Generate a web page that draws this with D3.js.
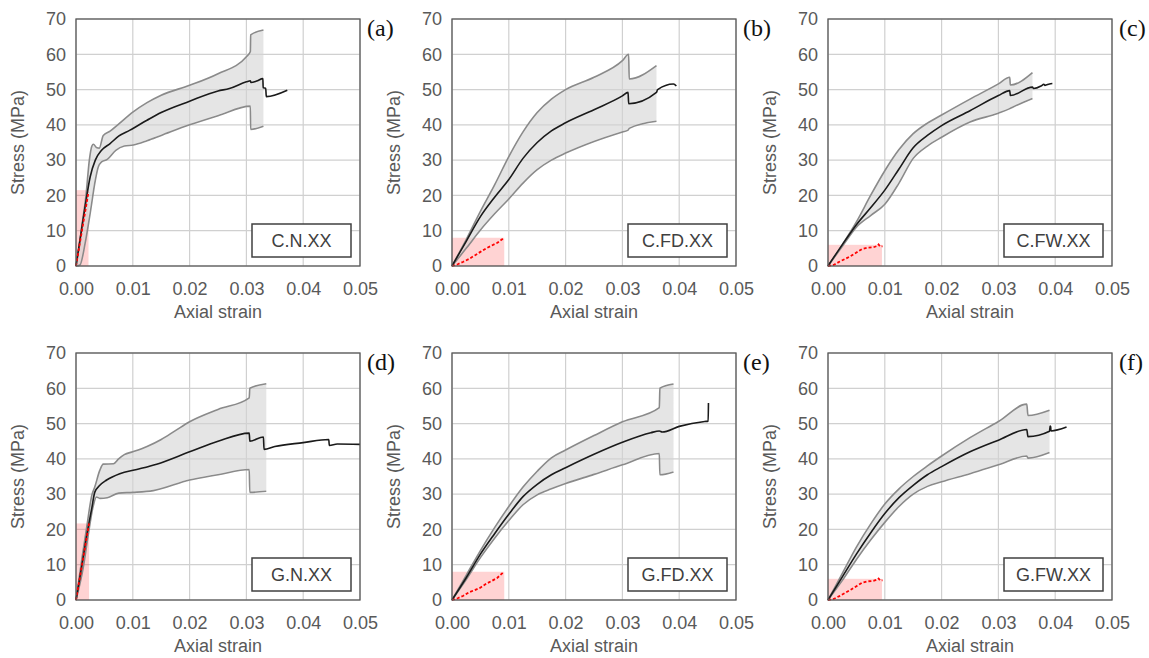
<!DOCTYPE html>
<html>
<head>
<meta charset="utf-8">
<script src="https://cdnjs.cloudflare.com/ajax/libs/d3/7.8.5/d3.min.js"></script>
<style>
	body { margin: 0; background: #fff; }
	svg text { font-family: "Liberation Sans", Arial, sans-serif; }
</style>
</head>
<body>
<div id="chart"></div>
<script>
// axis ticks
var strainTicks = [0, 0.01, 0.02, 0.03, 0.04, 0.05];
var stressTicks = [0, 10, 20, 30, 40, 50, 60, 70];

// panel names and labels
var panelNames = ["C.N.XX", "C.FD.XX", "C.FW.XX", "G.N.XX", "G.FD.XX", "G.FW.XX"];
var panelLetters = ["(a)", "(b)", "(c)", "(d)", "(e)", "(f)"];

// elastic zone boxes [max strain, max stress]
var elasticBox = [[0.0022, 21.5], [0.0092, 8], [0.0095, 6], [0.0023, 21.7], [0.0092, 8], [0.0095, 6]];

// upper bound curves [strain, stress]
var upperA = [[0,0],[0.0005,5],[0.001,11],[0.00176,20],[0.00235,30],[0.0028,34],[0.00306,34.5],[0.0036,33.6],[0.0041,33.4],[0.0048,37],[0.006,38.2],[0.0075,40.2],[0.01,43.6],[0.0125,46.3],[0.015,48.4],[0.02,51.2],[0.025,54.5],[0.03,59.3],[0.0307,60.8],[0.03075,65.5],[0.033,66.9]];
var upperB = [[0,0],[0.0025,7.5],[0.005,15.5],[0.0075,23],[0.01,31],[0.0125,38],[0.015,43.5],[0.0175,47.3],[0.02,50],[0.025,53.5],[0.03,58.2],[0.0311,60],[0.0312,53],[0.036,56.8]];
var upperC = [[0,0],[0.0025,6],[0.005,12.5],[0.0075,20],[0.01,27],[0.0125,33],[0.015,37.5],[0.0175,40.5],[0.02,42.8],[0.025,47.3],[0.03,51.6],[0.032,53.5],[0.0321,51.3],[0.036,54.8]];
var upperD = [[0,0],[0.001,11.3],[0.0019,20.8],[0.0028,29.8],[0.0033,32],[0.0042,36.8],[0.0048,38.5],[0.0066,38.6],[0.0075,40],[0.0085,41.2],[0.01,42],[0.0125,43.5],[0.015,45.5],[0.0175,48],[0.02,50.5],[0.025,54],[0.0305,57.3],[0.0306,60],[0.0335,61.3]];
var upperE = [[0,0],[0.0025,7],[0.005,14],[0.0075,20.5],[0.01,26.5],[0.0125,32],[0.015,36.5],[0.0175,40.3],[0.02,42.5],[0.025,46.6],[0.03,50.5],[0.0365,54.5],[0.0366,60],[0.039,61.2]];
var upperF = [[0,0],[0.0025,7.5],[0.005,15],[0.0075,21.5],[0.01,27.2],[0.0125,31.5],[0.015,35],[0.0175,38],[0.02,40.8],[0.025,46],[0.03,50.6],[0.035,55.5],[0.0352,52.3],[0.039,53.8]];

// lower bound curves
var lowerA = [[0,0],[0.0007,0.3],[0.0016,6.4],[0.0025,15],[0.0034,24.3],[0.0039,28],[0.0045,29.5],[0.0055,30.2],[0.007,32.8],[0.0085,34],[0.0101,34.3],[0.0125,35.5],[0.015,37],[0.02,40],[0.025,42.6],[0.0307,45.3],[0.03075,38.7],[0.033,39.6]];
var lowerB = [[0,0],[0.0025,5],[0.005,10.2],[0.0075,14.8],[0.01,19],[0.0125,23.5],[0.015,27.3],[0.0175,30],[0.02,32],[0.025,35.3],[0.03,38],[0.031,38.5],[0.0312,39],[0.036,41]];
var lowerC = [[0,0],[0.0025,5.5],[0.005,11],[0.0075,14.3],[0.01,17.5],[0.0125,23.5],[0.015,30.5],[0.0175,34],[0.02,36.5],[0.025,40.8],[0.03,43.3],[0.032,44.6],[0.0325,45],[0.036,47.5]];
var lowerD = [[0,0],[0.0013,9.4],[0.0022,18.9],[0.003,26.4],[0.0036,29.2],[0.0042,28.8],[0.0055,29],[0.0075,30.3],[0.01,30.5],[0.0136,31],[0.02,34],[0.025,35.5],[0.0305,37],[0.0306,30.5],[0.0335,30.8]];
var lowerE = [[0,0],[0.0025,5.8],[0.005,12],[0.0075,17.5],[0.01,22.5],[0.0125,27],[0.015,29.8],[0.0175,31.5],[0.02,33],[0.025,35.6],[0.03,38.3],[0.0365,41.5],[0.0366,35.5],[0.039,36.3]];
var lowerF = [[0,0],[0.0025,5.5],[0.005,11.5],[0.0075,17],[0.01,22],[0.0125,26.5],[0.015,30],[0.0175,32.2],[0.02,33.5],[0.025,35.8],[0.03,38.3],[0.035,40.8],[0.0352,40.2],[0.039,41.8]];

// mean curves
var meanA = [[0,0],[0.0007,7.4],[0.0016,16.8],[0.0025,25.3],[0.0034,30],[0.0045,32.8],[0.006,34.7],[0.0075,36.8],[0.0095,38.5],[0.0125,41.3],[0.015,43.5],[0.02,46.7],[0.025,49.6],[0.027,50.3],[0.03,52.2],[0.0307,52.5],[0.0308,52.0],[0.0318,52.4],[0.0329,53.1],[0.03295,50.5],[0.0334,50.4],[0.0335,48.0],[0.0372,49.8]];
var meanB = [[0,0],[0.0025,7],[0.005,14],[0.0075,19.5],[0.01,24.5],[0.0125,30.5],[0.015,35],[0.0175,38.3],[0.02,40.6],[0.025,44.3],[0.03,48.2],[0.031,49.2],[0.0311,46],[0.036,49.2],[0.0362,50],[0.039,51.6],[0.0395,51]];
var meanC = [[0,0],[0.0025,6],[0.005,11.7],[0.0075,16.5],[0.01,21.5],[0.0125,27.5],[0.015,33.5],[0.0175,37],[0.02,39.8],[0.025,44],[0.03,48.3],[0.032,49.7],[0.0321,48.3],[0.036,50.7],[0.0362,50.3],[0.0375,51],[0.038,51.5],[0.0382,51.2],[0.039,51.6],[0.0395,51.7]];
var meanD = [[0,0],[0.001,9.4],[0.0019,18.4],[0.0028,26.2],[0.0033,30.5],[0.0042,32.5],[0.0054,34],[0.0077,35.8],[0.0107,37],[0.0142,38.5],[0.02,42],[0.025,45],[0.0305,47.3],[0.0306,45],[0.033,46.2],[0.0331,42.7],[0.035,43.5],[0.04,44.6],[0.0445,45.5],[0.0446,43.8],[0.046,44.2],[0.05,44.1]];
var meanE = [[0,0],[0.0025,6.3],[0.005,13],[0.0075,18.8],[0.01,24.3],[0.0125,29.3],[0.015,32.8],[0.0175,35.5],[0.02,37.5],[0.025,41.3],[0.03,44.7],[0.035,47.4],[0.0365,47.9],[0.037,47.6],[0.04,49.2],[0.0445,50.6],[0.0451,50.7],[0.04515,55.8]];
var meanF = [[0,0],[0.0025,6.5],[0.005,13],[0.0075,19],[0.01,24.5],[0.0125,29],[0.015,32.5],[0.0175,35.5],[0.02,37.8],[0.025,42],[0.03,45.3],[0.035,48.3],[0.0352,46.3],[0.039,47.8],[0.0391,49.3],[0.0392,49.1],[0.03925,47.9],[0.042,49]];

// elastic (red dashed) curves
var redA = [[0,0],[0.0011,10.5],[0.0022,21]];
var redB = [[0,0],[0.001,0.5],[0.002,1.2],[0.003,2],[0.004,3],[0.005,4],[0.006,5],[0.007,5.8],[0.008,6.6],[0.009,7.8]];
var redC = [[0,0],[0.001,0.3],[0.002,1.2],[0.003,2],[0.004,2.8],[0.005,3.8],[0.006,4.8],[0.007,5.2],[0.008,5.3],[0.0087,5.7],[0.0089,6.1],[0.0092,5.5],[0.0096,5.6]];
var redD = [[0,0],[0.00115,10.8],[0.0023,21.7]];
var redE = [[0,0],[0.001,0.5],[0.002,1.2],[0.003,2.2],[0.004,2.8],[0.005,3.5],[0.006,4.6],[0.007,5.4],[0.008,6.3],[0.009,7.8]];
var redF = [[0,0],[0.001,0.3],[0.002,1.1],[0.003,2],[0.004,2.9],[0.005,3.9],[0.006,4.9],[0.007,5.3],[0.008,5.4],[0.0087,5.8],[0.0089,6.1],[0.0092,5.5],[0.0096,5.6]];

var uppers = [upperA, upperB, upperC, upperD, upperE, upperF];
var lowers = [lowerA, lowerB, lowerC, lowerD, lowerE, lowerF];
var means = [meanA, meanB, meanC, meanD, meanE, meanF];
var reds = [redA, redB, redC, redD, redE, redF];

var fullWidth = 1149;
var fullHeight = 658;
var plotW = 284;
var plotH = 247;
var lefts = [76, 452, 828];
var tops = [19, 353];
var axisGray = "#595959";
var fontSize = "18px";

var svg = d3.select("#chart").append("svg")
	.attr("width", fullWidth)
	.attr("height", fullHeight);
var defs = svg.append("defs");

//draw one panel
function drawPanel(i) {
	var g = svg.append("g")
		.attr("transform", "translate(" + lefts[i % 3] + "," + tops[Math.floor(i / 3)] + ")");

	var x = d3.scaleLinear().domain([0, 0.05]).range([0, plotW]);
	var y = d3.scaleLinear().domain([0, 70]).range([plotH, 0]);

	//grid
	g.selectAll(".vgrid").data(strainTicks).enter().append("line")
		.attr("x1", function(d) { return x(d); })
		.attr("x2", function(d) { return x(d); })
		.attr("y1", 0).attr("y2", plotH)
		.attr("stroke", "#d0d0d0").attr("stroke-width", 1.2);
	g.selectAll(".hgrid").data(stressTicks).enter().append("line")
		.attr("x1", 0).attr("x2", plotW)
		.attr("y1", function(d) { return y(d); })
		.attr("y2", function(d) { return y(d); })
		.attr("stroke", "#d0d0d0").attr("stroke-width", 1.2);

	//elastic zone box
	g.append("rect")
		.attr("x", x(0))
		.attr("y", y(elasticBox[i][1]))
		.attr("width", x(elasticBox[i][0]) - x(0))
		.attr("height", y(0) - y(elasticBox[i][1]))
		.style("fill", "rgba(255, 80, 80, 0.25)");

	var smooth = d3.line()
		.curve(d3.curveMonotoneX)
		.x(function(d) { return x(d[0]); })
		.y(function(d) { return y(d[1]); });
	var straight = d3.line()
		.x(function(d) { return x(d[0]); })
		.y(function(d) { return y(d[1]); });
	var under = d3.area()
		.curve(d3.curveMonotoneX)
		.x(function(d) { return x(d[0]); })
		.y0(y(0))
		.y1(function(d) { return y(d[1]); });

	//band between bounds: area under upper minus area under lower
	var mask = defs.append("mask")
		.attr("id", "band" + i)
		.attr("maskUnits", "userSpaceOnUse")
		.attr("x", -10).attr("y", -10)
		.attr("width", plotW + 20).attr("height", plotH + 20);
	mask.append("path").attr("d", under(uppers[i])).attr("fill", "#fff");
	mask.append("path").attr("d", under(lowers[i]))
		.attr("fill", "#000").attr("stroke", "#000").attr("stroke-width", 1.5);
	g.append("rect")
		.attr("x", 0).attr("y", 0)
		.attr("width", plotW).attr("height", plotH)
		.attr("mask", "url(#band" + i + ")")
		.style("fill", "#d4d4d4")
		.style("fill-opacity", 0.6);

	g.append("path").attr("d", smooth(uppers[i]))
		.attr("fill", "none").attr("stroke", "#8a8a8a").attr("stroke-width", 1.6);
	g.append("path").attr("d", smooth(lowers[i]))
		.attr("fill", "none").attr("stroke", "#8a8a8a").attr("stroke-width", 1.6);

	g.append("path").attr("d", smooth(means[i]))
		.attr("fill", "none").attr("stroke", "#1a1a1a").attr("stroke-width", 1.6);

	g.append("path").attr("d", straight(reds[i]))
		.attr("fill", "none").attr("stroke", "#ff0000").attr("stroke-width", 1.8)
		.attr("stroke-dasharray", "3,2");

	//plot border
	g.append("rect")
		.attr("x", 0).attr("y", 0)
		.attr("width", plotW).attr("height", plotH)
		.attr("fill", "none").attr("stroke", axisGray).attr("stroke-width", 1.3);

	//axes
	var xAxis = g.append("g")
		.attr("transform", "translate(0," + plotH + ")")
		.call(d3.axisBottom(x).tickValues(strainTicks).tickSize(0).tickPadding(16).tickFormat(d3.format(".2f")));
	var yAxis = g.append("g")
		.call(d3.axisLeft(y).tickValues(stressTicks).tickSize(0).tickPadding(10));
	[xAxis, yAxis].forEach(function(ax) {
		ax.select(".domain").remove();
		ax.selectAll("text")
			.style("font-family", "'Liberation Sans', Arial, sans-serif")
			.style("font-size", fontSize)
			.attr("fill", axisGray);
	});

	//axis titles
	g.append("text")
		.attr("x", plotW / 2)
		.attr("y", plotH + 52)
		.attr("text-anchor", "middle")
		.style("font-size", fontSize)
		.attr("fill", axisGray)
		.text("Axial strain");
	g.append("text")
		.attr("transform", "translate(-52," + (plotH / 2) + ") rotate(-90)")
		.attr("text-anchor", "middle")
		.style("font-size", fontSize)
		.attr("fill", axisGray)
		.text("Stress (MPa)");

	//name box
	var boxW = 99, boxH = 33;
	g.append("rect")
		.attr("x", plotW - 9 - boxW)
		.attr("y", plotH - 9 - boxH)
		.attr("width", boxW).attr("height", boxH)
		.attr("fill", "#fff").attr("stroke", "#404040").attr("stroke-width", 1.5);
	g.append("text")
		.attr("x", plotW - 9 - boxW / 2)
		.attr("y", plotH - 9 - boxH / 2 + 6.5)
		.attr("text-anchor", "middle")
		.style("font-size", fontSize)
		.attr("fill", "#404040")
		.text(panelNames[i]);

	//panel letter
	g.append("text")
		.attr("x", plotW + 7)
		.attr("y", 17)
		.style("font-family", "'Liberation Serif', 'Times New Roman', serif")
		.style("font-size", "24px")
		.attr("fill", "#111")
		.text(panelLetters[i]);
}

for (var i = 0; i < 6; i++) {
	drawPanel(i);
}
</script>
</body>
</html>
